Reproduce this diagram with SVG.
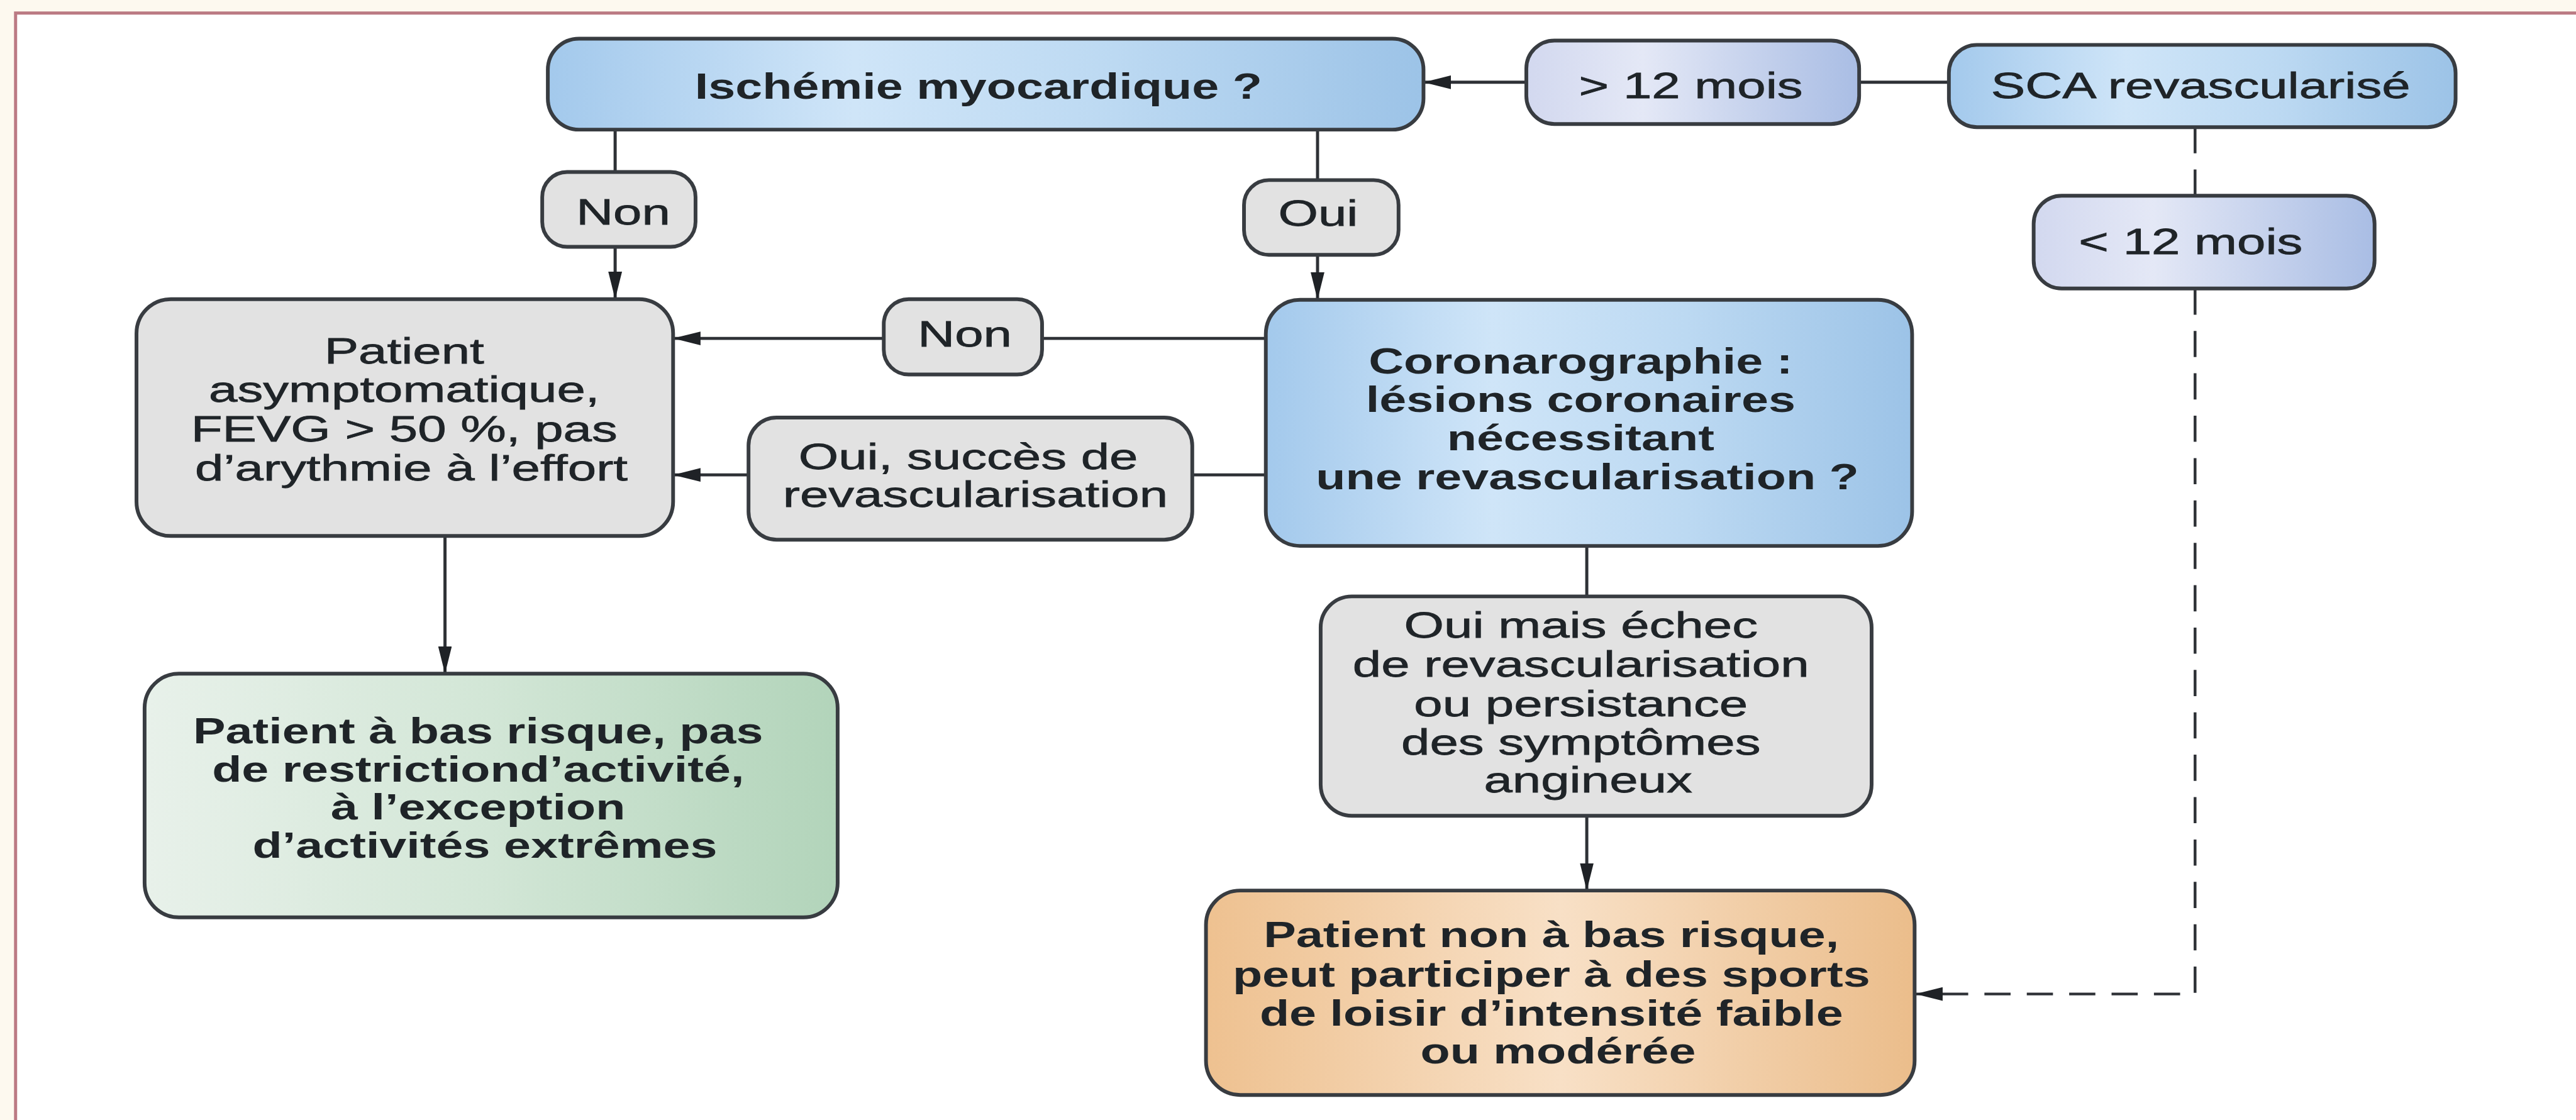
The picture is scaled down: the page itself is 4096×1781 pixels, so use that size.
<svg xmlns="http://www.w3.org/2000/svg" width="4096" height="1781" viewBox="0 0 4096 1781">
  <defs>
    <style>
      .box{stroke:#383c41;stroke-width:6}
      .gray{fill:#e2e2e2}
      .blue{fill:url(#gBlue)}
      .lav{fill:url(#gLav)}
      .green{fill:url(#gGreen)}
      .orange{fill:url(#gOrange)}
      .t{font-family:"Liberation Sans",Arial,sans-serif;font-size:58px;fill:#1f2428;stroke:#1f2428;stroke-width:0.8;text-anchor:middle}
      .b{font-weight:bold;stroke-width:0}
      .ln{fill:none;stroke:#2e3136;stroke-width:5}
      .arr{marker-end:url(#head)}
      .dash{fill:none;stroke:#2e3136;stroke-width:4.5;stroke-dasharray:42 26}
    </style>
    <linearGradient id="gBlue" x1="0" y1="0" x2="1" y2="0">
      <stop offset="0" stop-color="#a3c9ec"/>
      <stop offset="0.35" stop-color="#cfe5f8"/>
      <stop offset="0.65" stop-color="#bcd9f2"/>
      <stop offset="1" stop-color="#9cc3e7"/>
    </linearGradient>
    <linearGradient id="gLav" x1="0" y1="0" x2="1" y2="0">
      <stop offset="0" stop-color="#d2d8ef"/>
      <stop offset="0.35" stop-color="#e4e8f6"/>
      <stop offset="1" stop-color="#a9bde4"/>
    </linearGradient>
    <linearGradient id="gGreen" x1="0" y1="0" x2="1" y2="0">
      <stop offset="0" stop-color="#e8f1ea"/>
      <stop offset="0.5" stop-color="#d2e6d6"/>
      <stop offset="1" stop-color="#b2d4ba"/>
    </linearGradient>
    <linearGradient id="gOrange" x1="0" y1="0" x2="1" y2="0">
      <stop offset="0" stop-color="#eec190"/>
      <stop offset="0.5" stop-color="#f8e0c6"/>
      <stop offset="1" stop-color="#ebbd8b"/>
    </linearGradient>
    <marker id="head" markerUnits="userSpaceOnUse" viewBox="0 0 44 22" refX="44" refY="11" markerWidth="44" markerHeight="22" orient="auto">
      <path d="M0,0 L44,11 L0,22 Z" fill="#1f2226"/>
    </marker>
  </defs>

  <rect x="0" y="0" width="4096" height="1781" fill="#fdf9ef"/>

  <g transform="scale(0.991)">
    <!-- page frame: only the top and left edges fall inside the sheet -->
    <rect x="25" y="21" width="4120" height="1790" fill="#ffffff"/>
    <path d="M25,1800 V21 H4140" fill="none" stroke="#bb7a83" stroke-width="5"/>

    <g id="connectors">
      <path class="ln" d="M987,208 V276"/>
      <path class="ln arr" d="M987,396 V480"/>
      <path class="ln" d="M2114,208 V289"/>
      <path class="ln arr" d="M2114,409 V481"/>
      <path class="ln arr" d="M2449,132 H2284"/>
      <path class="ln" d="M3127,132 H2983"/>
      <path class="ln" d="M2031,543 H1672"/>
      <path class="ln arr" d="M1418,543 H1080"/>
      <path class="ln" d="M2031,762 H1913"/>
      <path class="ln arr" d="M1201,762 H1080"/>
      <path class="ln" d="M2546,876 V957"/>
      <path class="ln arr" d="M2546,1309 V1429"/>
      <path class="ln arr" d="M714,860 V1081"/>
      <path class="dash" d="M3522,204 V314"/>
      <path class="dash arr" d="M3522,463 V1595 H3073"/>
    </g>

    <g id="n-ischemie">
      <rect class="box blue" x="879" y="62" width="1405" height="146" rx="50"/>
      <text class="t b" transform="translate(1570 0) scale(1.345 1)"><tspan x="0" y="158">Ischémie myocardique ?</tspan></text>
    </g>

    <g id="n-plus12">
      <rect class="box lav" x="2449" y="65" width="534" height="134" rx="45"/>
      <text class="t" transform="translate(2713 0) scale(1.42 1)"><tspan x="0" y="157">&gt; 12 mois</tspan></text>
    </g>

    <g id="n-sca">
      <rect class="box blue" x="3127" y="72" width="813" height="132" rx="45"/>
      <text class="t" transform="translate(3531 0) scale(1.42 1)"><tspan x="0" y="157">SCA revascularisé</tspan></text>
    </g>

    <g id="n-non1">
      <rect class="box gray" x="870" y="276" width="246" height="120" rx="40"/>
      <text class="t" transform="translate(1000 0) scale(1.42 1)"><tspan x="0" y="360">Non</tspan></text>
    </g>

    <g id="n-oui">
      <rect class="box gray" x="1996" y="289" width="248" height="120" rx="40"/>
      <text class="t" transform="translate(2115 0) scale(1.42 1)"><tspan x="0" y="362">Oui</tspan></text>
    </g>

    <g id="n-moins12">
      <rect class="box lav" x="3263" y="314" width="547" height="149" rx="45"/>
      <text class="t" transform="translate(3515 0) scale(1.42 1)"><tspan x="0" y="408">&lt; 12 mois</tspan></text>
    </g>

    <g id="n-patient">
      <rect class="box gray" x="219" y="480" width="861" height="380" rx="55"/>
      <text class="t" transform="translate(660 0) scale(1.42 1)">
        <tspan x="0" y="583">Patient</tspan>
        <tspan x="0" y="645">asymptomatique,</tspan>
        <tspan x="0" y="708">FEVG &gt; 50 %, pas</tspan>
        <tspan x="0" y="771">d’arythmie à l’effort</tspan>
      </text>
    </g>

    <g id="n-non2">
      <rect class="box gray" x="1418" y="480" width="254" height="121" rx="40"/>
      <text class="t" transform="translate(1548 0) scale(1.42 1)"><tspan x="0" y="556">Non</tspan></text>
    </g>

    <g id="n-succes">
      <rect class="box gray" x="1201" y="670" width="712" height="196" rx="45"/>
      <text class="t" transform="translate(1565 0) scale(1.42 1)">
        <tspan x="0" y="753">Oui, succès de</tspan>
        <tspan x="0" y="813">revascularisation</tspan>
      </text>
    </g>

    <g id="n-coronarographie">
      <rect class="box blue" x="2031" y="481" width="1037" height="395" rx="55"/>
      <text class="t b" transform="translate(2547 0) scale(1.345 1)">
        <tspan x="0" y="599">Coronarographie :</tspan>
        <tspan x="0" y="661">lésions coronaires</tspan>
        <tspan x="0" y="723">nécessitant</tspan>
        <tspan x="0" y="785">une revascularisation ?</tspan>
      </text>
    </g>

    <g id="n-basrisque">
      <rect class="box green" x="232" y="1081" width="1112" height="391" rx="55"/>
      <text class="t b" transform="translate(778 0) scale(1.345 1)">
        <tspan x="0" y="1193">Patient à bas risque, pas</tspan>
        <tspan x="0" y="1254">de restrictiond’activité,</tspan>
        <tspan x="0" y="1315">à l’exception</tspan>
        <tspan x="0" y="1376">d’activités extrêmes</tspan>
      </text>
    </g>

    <g id="n-echec">
      <rect class="box gray" x="2119" y="957" width="884" height="352" rx="50"/>
      <text class="t" transform="translate(2548 0) scale(1.42 1)">
        <tspan x="0" y="1023">Oui mais échec</tspan>
        <tspan x="0" y="1086">de revascularisation</tspan>
        <tspan x="0" y="1149">ou persistance</tspan>
        <tspan x="0" y="1211">des symptômes</tspan>
        <tspan x="0" y="1271">angineux</tspan>
      </text>
    </g>

    <g id="n-nonbasrisque">
      <rect class="box orange" x="1935" y="1429" width="1137" height="328" rx="55"/>
      <text class="t b" transform="translate(2500 0) scale(1.345 1)">
        <tspan x="0" y="1520">Patient non à bas risque,</tspan>
        <tspan x="0" y="1583">peut participer à des sports</tspan>
        <tspan x="0" y="1646">de loisir d’intensité faible</tspan>
        <tspan x="0" y="1706">ou modérée</tspan>
      </text>
    </g>
  </g>
</svg>
